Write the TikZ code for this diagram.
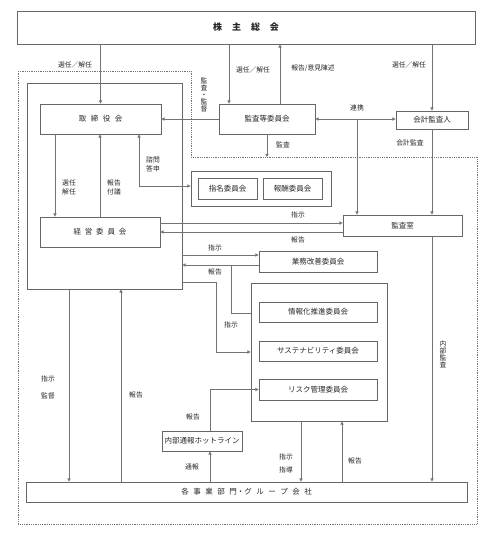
\documentclass[tikz,border=0pt]{standalone}
\usepackage{fontspec}
\setmainfont{Noto Sans CJK JP}
\usetikzlibrary{arrows.meta}
\definecolor{linecol}{gray}{0.45}
\definecolor{boxcol}{gray}{0.40}
\definecolor{txtcol}{gray}{0.15}
\newcommand\jgap{\hspace{4.5pt}}
\begin{document}
\begin{tikzpicture}[x=1pt,y=-1pt,
  box/.style={draw=boxcol, line width=0.8pt, inner sep=0pt, text=txtcol, font=\fontsize{7.5}{9}\selectfont},
  ln/.style={draw=linecol, line width=0.8pt},
  arr/.style={ln, -{Triangle[length=3.2pt,width=3.2pt]}},
  arrb/.style={ln, {Triangle[length=3.2pt,width=3.2pt]}-{Triangle[length=3.2pt,width=3.2pt]}},
  lab/.style={text=txtcol, inner sep=0pt, font=\fontsize{6.8}{9}\selectfont, align=center},
  vlab/.style={text=txtcol, inner sep=0pt, font=\fontsize{6.8}{7}\selectfont, align=center}
]
\useasboundingbox (0,0) rectangle (486,533);

% dotted region
\draw[draw=linecol, line width=0.8pt, densely dotted] (18,71) -- (191,71) -- (191,157) -- (477,157) -- (477,524) -- (18,524) -- cycle;

% boxes
\node[box, minimum width=458, minimum height=33, font=\fontsize{9}{10}\selectfont\bfseries] (gm) at (246,27.5) {株\hspace{10pt}主\hspace{10pt}総\hspace{10pt}会};
\node[box, minimum width=155, minimum height=206] (bigL) at (104.5,186) {};
\node[box, minimum width=121, minimum height=30] (tori) at (100.5,119) {取\jgap 締\jgap 役\jgap 会};
\node[box, minimum width=120, minimum height=30] (keiei) at (100,232) {経\hspace{3.8pt}営\hspace{3.8pt}委\hspace{3.8pt}員\hspace{3.8pt}会};
\node[box, minimum width=96, minimum height=30] (kansa) at (267,119) {監査等委員会};
\node[box, minimum width=72, minimum height=18] (kaikei) at (432,120) {会計監査人};
\node[box, minimum width=140, minimum height=35] (nomout) at (261,188.5) {};
\node[box, minimum width=59, minimum height=21] (shimei) at (227.5,188.5) {指名委員会};
\node[box, minimum width=59, minimum height=21] (houshu) at (292.5,188.5) {報酬委員会};
\node[box, minimum width=119, minimum height=21] (kshitsu) at (402.5,225.5) {監査室};
\node[box, minimum width=118, minimum height=21] (gyomu) at (318,261.5) {業務改善委員会};
\node[box, minimum width=136, minimum height=138] (grp) at (319,352) {};
\node[box, minimum width=118, minimum height=20] (joho) at (318,312) {情報化推進委員会};
\node[box, minimum width=118, minimum height=20] (sus) at (318,351) {サステナビリティ委員会};
\node[box, minimum width=118, minimum height=21] (risk) at (318,389.5) {リスク管理委員会};
\node[box, minimum width=80, minimum height=20] (hot) at (202,441) {内部通報ホットライン};
\node[box, minimum width=441, minimum height=20] (kaku) at (246.5,492) {各\jgap 事\jgap 業\jgap 部\jgap 門・グ\jgap ル\jgap ー\jgap プ\jgap 会\jgap 社};

% connectors from general meeting
\draw[arr] (gm.south -| tori.north) -- (tori.north);
\draw[arr] ([xshift=-38pt]kansa.north |- gm.south) -- ([xshift=-38pt]kansa.north);
\draw[arr] ([xshift=13pt]kansa.north) -- ([xshift=13pt]kansa.north |- gm.south);
\draw[arr] (gm.south -| kaikei.north) -- (kaikei.north);

% audit committee
\draw[arr] (kansa.west) -- (tori.east);
\draw[arrb] (kansa.east) -- (kansa.east -| kaikei.west);
\coordinate (kend) at (267,157);
\draw[arr] (kansa.south) -- (kend);
\coordinate (rk) at (357,119);
\draw[arr] (rk) -- (rk |- kshitsu.north);
\draw[arr] (kaikei.south) -- (kaikei.south |- kshitsu.north);
\draw[arr] (kaikei.south |- kshitsu.south) -- (kaikei.south |- kaku.north);

% board and management
\draw[arr] ([xshift=-45.5pt]tori.south) -- ([xshift=-45.5pt]tori.south |- keiei.north);
\draw[arr] (keiei.north) -- (keiei.north |- tori.south);
\draw[arrb] ([xshift=38.5pt]tori.south) |- ([yshift=2.5pt]nomout.west);

\draw[arr] ([yshift=9pt]keiei.east) -- ([yshift=9pt]keiei.east -| kshitsu.west);
\draw[arr] (kshitsu.west |- keiei.east) -- (keiei.east);

\draw[arr] ([yshift=6.5pt]gyomu.west -| bigL.east) -- ([yshift=6.5pt]gyomu.west);
\draw[arr] ([yshift=-3.5pt]gyomu.west) -- ([yshift=-3.5pt]gyomu.west -| bigL.east);
\draw[ln] ([yshift=39pt]grp.west) -| ([xshift=-27pt,yshift=-3.5pt]gyomu.west);
\draw[arr] (bigL.east |- grp.north) -- ++(34,0) |- (grp.west);

% hotline
\draw[arr] ([xshift=8pt]hot.north) |- (risk.west);
\draw[arr] ([xshift=8pt]hot.south |- kaku.north) -- ([xshift=8pt]hot.south);

% to / from business units
\draw[arr] ([xshift=-18pt]grp.south) -- ([xshift=-18pt]grp.south |- kaku.north);
\draw[arr] ([xshift=23pt]grp.south |- kaku.north) -- ([xshift=23pt]grp.south);
\draw[arr] ([xshift=-35.5pt]bigL.south) -- ([xshift=-35.5pt]bigL.south |- kaku.north);
\draw[arr] ([xshift=16.5pt]bigL.south |- kaku.north) -- ([xshift=16.5pt]bigL.south);

% labels
\node[lab] (l1) at (75,65) {選任／解任};
\node[vlab] (l2) at (204,95) {監\\査\\・\\監\\督};
\node[lab] (l3) at (253,70) {選任／解任};
\node[lab] (l4) at (313,68) {報告/意見陳述};
\node[lab] (l5) at (409,65) {選任／解任};
\node[lab] (l6) at (357,108) {連携};
\node[lab] (l7) at (283,145) {監査};
\node[lab] (l8) at (410,143) {会計監査};
\node[lab] (l9) at (69,187.5) {選任\\解任};
\node[lab] (l10) at (114,187.5) {報告\\付議};
\node[lab] (l11) at (153,164.5) {諮問\\答申};
\node[lab] (l12) at (298,215) {指示};
\node[lab] (l13) at (298,240) {報告};
\node[lab] (l14) at (215,248) {指示};
\node[lab] (l15) at (215,272) {報告};
\node[lab] (l16) at (231,325) {指示};
\node[lab] (l17) at (48,379) {指示};
\node[lab] (l18) at (48,396) {監督};
\node[lab] (l19) at (136,395) {報告};
\node[vlab] (l20) at (443,354) {内\\部\\監\\査};
\node[lab] (l21) at (193,417) {報告};
\node[lab] (l22) at (192,467) {通報};
\node[lab] (l23) at (286,457) {指示};
\node[lab] (l24) at (286,470) {指導};
\node[lab] (l25) at (355,461) {報告};
\end{tikzpicture}
\end{document}
